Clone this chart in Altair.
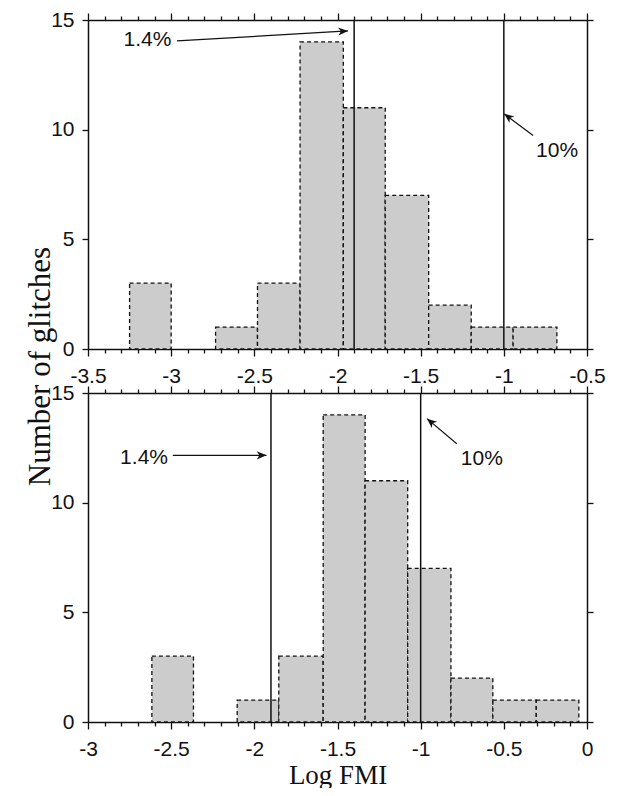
import altair as alt
import pandas as pd

# ---- data ----
top_start = [-3.25, -2.733, -2.481, -2.225, -1.965, -1.713, -1.452, -1.196, -0.944]
top_end = [-3.0, -2.481, -2.225, -1.965, -1.713, -1.452, -1.196, -0.944, -0.681]
top_count = [3, 1, 3, 14, 11, 7, 2, 1, 1]

bot_start = [-2.616, -2.103, -1.853, -1.586, -1.334, -1.078, -0.818, -0.566, -0.305]
bot_end = [-2.366, -1.853, -1.586, -1.334, -1.078, -0.818, -0.566, -0.305, -0.049]
bot_count = [3, 1, 3, 14, 11, 7, 2, 1, 1]

thresholds = [-1.9, -1.0]
top_domain = [-3.5, -0.5]
bot_domain = [-3.0, 0.0]
y_domain = [0, 15]
y_ticks = [0, 5, 10, 15]

ann_text = ["1.4%", "10%"]
top_label_x = [-3.142, -0.68]
top_label_y = [14.1, 9.05]
top_arrow_x0 = [-2.965, -0.824]
top_arrow_y0 = [14.05, 9.73]
top_arrow_x1 = [-1.937, -0.998]
top_arrow_y1 = [14.5, 10.72]
top_arrow_angle = [357, 217]

bot_label_x = [-2.663, -0.632]
bot_label_y = [12.05, 11.98]
bot_arrow_x0 = [-2.49, -0.783]
bot_arrow_y0 = [12.16, 12.69]
bot_arrow_x1 = [-1.927, -0.962]
bot_arrow_y1 = [12.16, 13.83]
bot_arrow_angle = [0, 220]

SANS = "Liberation Sans"
SERIF = "Liberation Serif"
INK = "#111111"
MAJOR = "abs(round(datum.value*10)) % 5 == 0"
ARROW_PATH = "M0,0 L-1,-0.42 L-0.72,0 L-1,0.42 Z"
PANEL_W = 499
PANEL_H = 329


def make_panel(starts, ends, counts, xdomain, lab_x, lab_y,
               ax0, ay0, ax1, ay1, angles, ytitle, xtitle):
    df_bars = pd.DataFrame({"start": starts, "end": ends, "count": counts})
    df_thr = pd.DataFrame({"v": thresholds})
    df_arr = pd.DataFrame({"x0": ax0, "y0": ay0, "x1": ax1, "y1": ay1,
                           "angle": angles})
    df_lab = pd.DataFrame({"x": lab_x, "y": lab_y, "text": ann_text})

    xs = alt.Scale(domain=xdomain, nice=False, zero=False)
    ys = alt.Scale(domain=y_domain, nice=False)
    xticks = [round(xdomain[0] + 0.1 * i, 1) for i in range(31)]
    tick_size = {"condition": {"test": MAJOR, "value": 7}, "value": 4}

    x_bottom_kw = dict(
        orient="bottom", values=xticks, tickSize=tick_size,
        labelExpr=f"{MAJOR} ? '' + datum.value : ''",
        labelOverlap=False, labelFlush=False, grid=False,
        labelFont=SANS, labelFontSize=21, labelColor=INK, labelPadding=9,
        domainColor=INK, domainWidth=1.5, tickColor=INK, tickWidth=1.3,
    )
    if xtitle:
        x_bottom_kw.update(title=xtitle, titleFont=SERIF, titleFontSize=27,
                           titleFontWeight="normal", titleColor=INK,
                           titlePadding=3)
    else:
        x_bottom_kw.update(title=None)
    x_bottom = alt.Axis(**x_bottom_kw)

    y_left_kw = dict(
        orient="left", values=y_ticks, tickSize=6, grid=False,
        labelFont=SANS, labelFontSize=21, labelColor=INK, labelPadding=8,
        domainColor=INK, domainWidth=1.5, tickColor=INK, tickWidth=1.3,
    )
    if ytitle:
        y_left_kw.update(title=ytitle, titleFont=SERIF, titleFontSize=31,
                         titleFontWeight="normal", titleColor=INK,
                         titleAngle=270, titleAlign="center",
                         titleBaseline="middle", titleX=-48, titleY=346)
    else:
        y_left_kw.update(title=None)
    y_left = alt.Axis(**y_left_kw)

    x_top = alt.Axis(orient="top", values=xticks, tickSize=tick_size,
                     labels=False, title=None, grid=False,
                     domainColor=INK, domainWidth=1.5, tickColor=INK,
                     tickWidth=1.3)
    y_right = alt.Axis(orient="right", values=y_ticks, tickSize=6,
                       labels=False, title=None, grid=False,
                       domainColor=INK, domainWidth=1.5, tickColor=INK,
                       tickWidth=1.3)

    bars = alt.Chart(df_bars).mark_rect(
        fill="#cccccc", stroke=INK, strokeDash=[4, 3], strokeWidth=1.3
    ).encode(
        x=alt.X("start:Q", scale=xs, axis=x_bottom),
        x2="end:Q",
        y=alt.Y("count:Q", scale=ys, axis=y_left),
        y2=alt.datum(0),
    )

    thr = alt.Chart(df_thr).mark_rule(color=INK, strokeWidth=1.5).encode(
        x=alt.X("v:Q", scale=xs, axis=None)
    )

    arrows = alt.Chart(df_arr).mark_rule(color=INK, strokeWidth=1.2).encode(
        x=alt.X("x0:Q", scale=xs, axis=x_top),
        x2="x1:Q",
        y=alt.Y("y0:Q", scale=ys, axis=y_right),
        y2="y1:Q",
    )

    heads = alt.Chart(df_arr).mark_point(
        shape=ARROW_PATH, filled=True, size=380, color=INK, opacity=1,
        strokeWidth=0
    ).encode(
        x=alt.X("x1:Q", scale=xs, axis=None),
        y=alt.Y("y1:Q", scale=ys, axis=None),
        angle=alt.Angle("angle:Q", scale=None),
    )

    texts = alt.Chart(df_lab).mark_text(
        font=SANS, fontSize=21, color=INK, align="center", baseline="middle"
    ).encode(
        x=alt.X("x:Q", scale=xs, axis=None),
        y=alt.Y("y:Q", scale=ys, axis=None),
        text="text:N",
    )

    return alt.layer(bars, thr, arrows, heads, texts).resolve_axis(
        x="independent", y="independent"
    ).properties(width=PANEL_W, height=PANEL_H)


top = make_panel(top_start, top_end, top_count, top_domain,
                 top_label_x, top_label_y, top_arrow_x0, top_arrow_y0,
                 top_arrow_x1, top_arrow_y1, top_arrow_angle,
                 "Number of glitches", None)
bottom = make_panel(bot_start, bot_end, bot_count, bot_domain,
                    bot_label_x, bot_label_y, bot_arrow_x0, bot_arrow_y0,
                    bot_arrow_x1, bot_arrow_y1, bot_arrow_angle,
                    None, "Log FMI")

chart = alt.vconcat(top, bottom, spacing=44, bounds="flush").properties(
    padding={"top": 1, "left": 16, "right": 0, "bottom": 0},
    background="white",
).configure_view(stroke=None)

chart.save("out.html", embed_options={"renderer": "svg", "actions": False})
